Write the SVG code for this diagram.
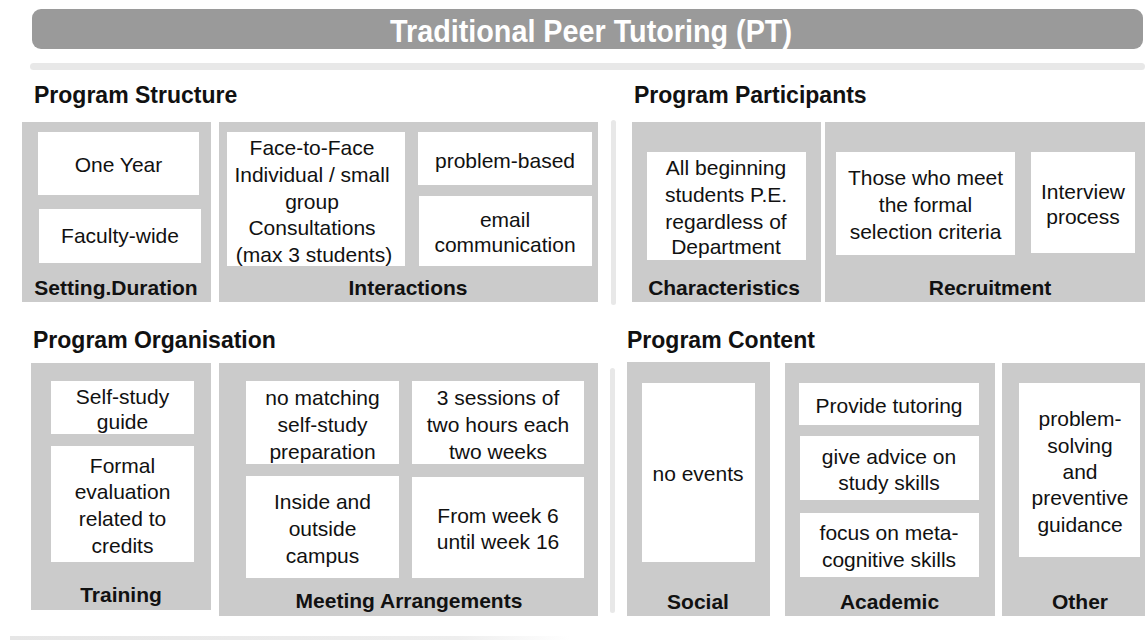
<svg xmlns="http://www.w3.org/2000/svg" width="1145" height="640" viewBox="0 0 1145 640">
  <defs>
    <linearGradient id="fadeLine" x1="0" y1="0" x2="1" y2="0">
      <stop offset="0" stop-color="#e6e6e6"/>
      <stop offset="0.8" stop-color="#eeeeee"/>
      <stop offset="1" stop-color="#ffffff"/>
    </linearGradient>
  </defs>
  <style>
    text { font-family: "Liberation Sans", Arial, Helvetica, sans-serif; fill: #111; }
    .title { font-size: 32px; font-weight: bold; fill: #ffffff; text-anchor: middle; }
    .head { font-size: 23px; font-weight: bold; }
    .lbl { font-size: 21px; font-weight: bold; text-anchor: middle; }
    .item { font-size: 21px; text-anchor: middle; }
    .panel { fill: #cbcbcb; }
    .box { fill: #ffffff; }
    .sep { fill: #e8e8e8; }
  </style>

  <rect width="1145" height="640" fill="#ffffff"/>

  <!-- title banner -->
  <g id="title">
    <rect x="32" y="9" width="1111" height="40" rx="9" fill="#9a9a9a"/>
    <text class="title" x="591" y="42" textLength="402" lengthAdjust="spacingAndGlyphs">Traditional Peer Tutoring (PT)</text>
  </g>
  <rect x="30" y="63" width="1115" height="7" rx="3.5" class="sep"/>

  <!-- section headings -->
  <text class="head" x="34" y="103">Program Structure</text>
  <text class="head" x="634" y="103">Program Participants</text>
  <text class="head" x="33" y="348">Program Organisation</text>
  <text class="head" x="627" y="348">Program Content</text>

  <!-- column separators -->
  <rect x="611" y="120" width="5" height="185" rx="2.5" class="sep"/>
  <rect x="610" y="368" width="5" height="245" rx="2.5" class="sep"/>
  <rect x="10" y="636" width="560" height="4" fill="url(#fadeLine)"/>

  <!-- Program Structure -->
  <g id="setting-duration">
    <rect class="panel" x="22" y="122" width="189" height="180"/>
    <rect class="box" x="38" y="132" width="161" height="63"/>
    <text class="item" x="118.5" y="172">One Year</text>
    <rect class="box" x="39" y="209" width="162" height="54"/>
    <text class="item" x="120" y="243">Faculty-wide</text>
    <text class="lbl" x="116" y="295">Setting.Duration</text>
  </g>

  <g id="interactions">
    <rect class="panel" x="219" y="122" width="379" height="180"/>
    <rect class="box" x="227" y="132" width="178" height="134"/>
    <text class="item" x="312" y="155">Face-to-Face</text>
    <text class="item" x="312" y="182">Individual / small</text>
    <text class="item" x="312" y="209">group</text>
    <text class="item" x="312" y="235">Consultations</text>
    <text class="item" x="314" y="262">(max 3 students)</text>
    <rect class="box" x="418" y="132" width="174" height="53"/>
    <text class="item" x="505" y="168">problem-based</text>
    <rect class="box" x="419" y="196" width="173" height="70"/>
    <text class="item" x="505" y="227">email</text>
    <text class="item" x="505" y="252">communication</text>
    <text class="lbl" x="408" y="295">Interactions</text>
  </g>

  <!-- Program Participants -->
  <g id="characteristics">
    <rect class="panel" x="632" y="122" width="189" height="180"/>
    <rect class="box" x="647" y="152" width="159" height="108"/>
    <text class="item" x="726" y="175">All beginning</text>
    <text class="item" x="726" y="202">students P.E.</text>
    <text class="item" x="726" y="229">regardless of</text>
    <text class="item" x="726" y="254">Department</text>
    <text class="lbl" x="724" y="295">Characteristics</text>
  </g>

  <g id="recruitment">
    <rect class="panel" x="825" y="122" width="320" height="180"/>
    <rect class="box" x="836" y="152" width="179" height="103"/>
    <text class="item" x="925.5" y="185">Those who meet</text>
    <text class="item" x="925.5" y="212">the formal</text>
    <text class="item" x="925.5" y="239">selection criteria</text>
    <rect class="box" x="1031" y="152" width="104" height="101"/>
    <text class="item" x="1083" y="199">Interview</text>
    <text class="item" x="1083" y="224">process</text>
    <text class="lbl" x="990" y="295">Recruitment</text>
  </g>

  <!-- Program Organisation -->
  <g id="training">
    <rect class="panel" x="31" y="363" width="180" height="247"/>
    <rect class="box" x="51" y="381" width="143" height="53"/>
    <text class="item" x="122.5" y="404">Self-study</text>
    <text class="item" x="122.5" y="429">guide</text>
    <rect class="box" x="51" y="446" width="143" height="116"/>
    <text class="item" x="122.5" y="473">Formal</text>
    <text class="item" x="122.5" y="499">evaluation</text>
    <text class="item" x="122.5" y="526">related to</text>
    <text class="item" x="122.5" y="553">credits</text>
    <text class="lbl" x="121" y="602">Training</text>
  </g>

  <g id="meeting-arrangements">
    <rect class="panel" x="219" y="363" width="379" height="253"/>
    <rect class="box" x="246" y="381" width="153" height="83"/>
    <text class="item" x="322.5" y="405">no matching</text>
    <text class="item" x="322.5" y="432">self-study</text>
    <text class="item" x="322.5" y="459">preparation</text>
    <rect class="box" x="412" y="381" width="172" height="83"/>
    <text class="item" x="498" y="405">3 sessions of</text>
    <text class="item" x="498" y="432">two hours each</text>
    <text class="item" x="498" y="459">two weeks</text>
    <rect class="box" x="246" y="476" width="153" height="102"/>
    <text class="item" x="322.5" y="509">Inside and</text>
    <text class="item" x="322.5" y="536">outside</text>
    <text class="item" x="322.5" y="563">campus</text>
    <rect class="box" x="412" y="477" width="172" height="101"/>
    <text class="item" x="498" y="523">From week 6</text>
    <text class="item" x="498" y="549">until week 16</text>
    <text class="lbl" x="409" y="608">Meeting Arrangements</text>
  </g>

  <!-- Program Content -->
  <g id="social">
    <rect class="panel" x="627" y="362" width="143" height="254"/>
    <rect class="box" x="642" y="383" width="113" height="179"/>
    <text class="item" x="698" y="481">no events</text>
    <text class="lbl" x="698" y="609">Social</text>
  </g>

  <g id="academic">
    <rect class="panel" x="785" y="363" width="210" height="253"/>
    <rect class="box" x="799" y="383" width="180" height="42"/>
    <text class="item" x="889" y="413">Provide tutoring</text>
    <rect class="box" x="800" y="436" width="179" height="64"/>
    <text class="item" x="889" y="464">give advice on</text>
    <text class="item" x="889" y="490">study skills</text>
    <rect class="box" x="800" y="513" width="179" height="64"/>
    <text class="item" x="889" y="540">focus on meta-</text>
    <text class="item" x="889" y="567">cognitive skills</text>
    <text class="lbl" x="889.5" y="609">Academic</text>
  </g>

  <g id="other">
    <rect class="panel" x="1002" y="363" width="143" height="253"/>
    <rect class="box" x="1019" y="383" width="121" height="174"/>
    <text class="item" x="1080" y="426">problem-</text>
    <text class="item" x="1080" y="453">solving</text>
    <text class="item" x="1080" y="479">and</text>
    <text class="item" x="1080" y="505">preventive</text>
    <text class="item" x="1080" y="532">guidance</text>
    <text class="lbl" x="1080" y="609">Other</text>
  </g>
</svg>
